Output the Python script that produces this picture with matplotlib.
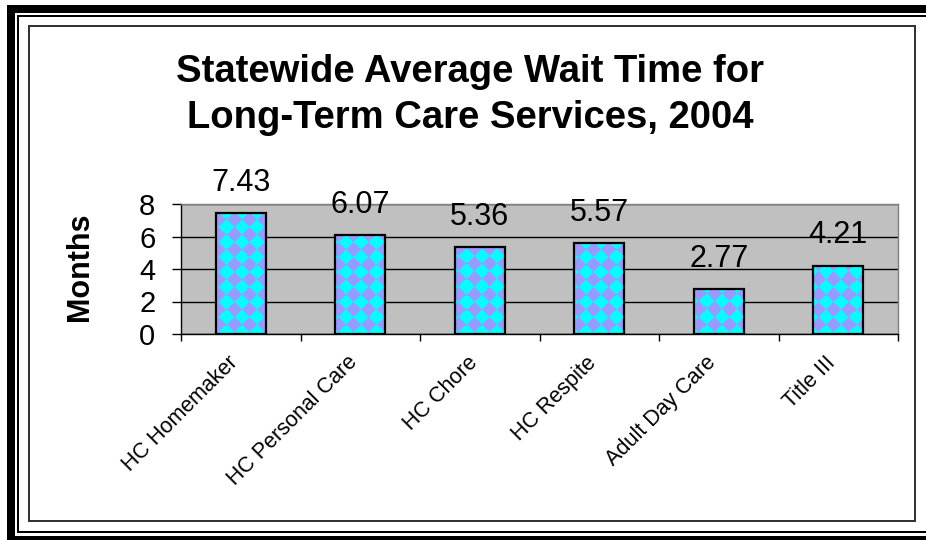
import numpy as np
import matplotlib
matplotlib.use("Agg")
import matplotlib.pyplot as plt
from matplotlib.patches import Rectangle
from matplotlib.ticker import FixedLocator
import matplotlib.transforms as mtransforms

categories = ["HC Homemaker", "HC Personal Care", "HC Chore", "HC Respite",
              "Adult Day Care", "Title III"]
values = [7.43, 6.07, 5.36, 5.57, 2.77, 4.21]
value_labels = ["7.43", "6.07", "5.36", "5.57", "2.77", "4.21"]
y_ticks = [0, 2, 4, 6, 8]
title_lines = ["Statewide Average Wait Time for", "Long-Term Care Services, 2004"]
ylabel = "Months"

W, H = 926, 540
DPI = 100
plt.rcParams['font.family'] = ['Liberation Sans', 'DejaVu Sans']

fig = plt.figure(figsize=(W / DPI, H / DPI), dpi=DPI)
fig.patch.set_facecolor("white")
fig.patch.set_edgecolor("white")
fig.patch.set_linewidth(0)

def fx(px):
    return px / W

def fy(py):
    return 1 - py / H

def band(x0, y0, x1, y1, color, z=1):
    fig.add_artist(Rectangle((fx(x0), fy(y1)), fx(x1) - fx(x0), fy(y0) - fy(y1),
                             transform=fig.transFigure, facecolor=color,
                             edgecolor="none", linewidth=0, zorder=z))

# decorative frame: thick outer band (left, top, bottom)
band(7, 5, 15, H, "black")
# thin line
band(17, 15, 19, 533, "black")
# inner box
band(28, 25, 916, 27, "#333333")
band(28, 25, 30, 522, "#333333")
band(914, 25, 916, 522, "#333333")
band(28, 520, 916, 522, "#333333")
# clear right margin, then horizontal bands on top
band(916.5, 0, W, H, "white", z=5)
band(7, 5, W, 13, "black", z=6)
band(7, 536, W, H, "black", z=6)
band(17, 15, W, 17, "black", z=6)
band(17, 531, W, 533, "black", z=6)

# axes
ax_l, ax_r, ax_t, ax_b = 181, 898, 204, 334
ax = fig.add_axes([fx(ax_l), fy(ax_b), fx(ax_r) - fx(ax_l), fy(ax_t) - fy(ax_b)])
ax.set_facecolor("#C0C0C0")
x = np.arange(len(categories))
ax.set_xlim(-0.5, len(categories) - 0.5)
ax.set_ylim(0, 8)

ax.yaxis.grid(True, color="black", linewidth=1.0)
ax.set_axisbelow(True)

bar_w = 0.42
bars = ax.bar(x, values, width=bar_w, color="#00FFFF", edgecolor="none", zorder=2)

# diamond checker pattern
pw, ph = ax_r - ax_l, ax_b - ax_t
jj, ii = np.meshgrid(np.arange(pw), np.arange(ph))
d = 15.0
par = (np.floor((jj + ii) / d) + np.floor((jj - ii) / d)) % 2
pat = np.zeros((ph, pw, 3))
cyan = np.array([0, 1, 1])
lav = np.array([0x99, 0x99, 0xFF]) / 255.0
pat[par == 0] = lav
pat[par == 1] = cyan
for b in bars:
    im = ax.imshow(pat, extent=(-0.5, len(categories) - 0.5, 0, 8), aspect='auto',
                   interpolation='nearest', origin='upper', zorder=2.5)
    im.set_clip_path(b)
ax.bar(x, values, width=bar_w, fill=False, edgecolor="black", linewidth=1.6, zorder=3)

for xi, v, s in zip(x, values, value_labels):
    ax.annotate(s, (xi, v), xytext=(0, 11), textcoords="offset points",
                ha="center", va="bottom", fontsize=22, zorder=4)

for s in ["top", "right"]:
    ax.spines[s].set_color("#808080")
    ax.spines[s].set_linewidth(1.0)
for s in ["left", "bottom"]:
    ax.spines[s].set_color("black")
    ax.spines[s].set_linewidth(1.0)

ax.set_yticks(y_ticks)
ax.set_yticklabels([str(t) for t in y_ticks], fontsize=21)
ax.tick_params(axis="y", length=6.5, width=1, pad=12)

ax.set_xticks(x)
ax.xaxis.set_minor_locator(FixedLocator(np.arange(len(categories) + 1) - 0.5))
ax.tick_params(axis="x", which="major", length=0, pad=13)
ax.tick_params(axis="x", which="minor", length=5, width=1)
ax.set_xticklabels(categories, fontsize=15.5, rotation=45, ha="right", va="top",
                   rotation_mode="anchor")
shift = mtransforms.ScaledTranslation(-13 / DPI, 0, fig.dpi_scale_trans)
for lbl in ax.get_xticklabels():
    lbl.set_transform(lbl.get_transform() + shift)

fig.text(fx(80), fy(267), ylabel, rotation=90, ha="center", va="center",
         fontsize=22, fontweight="bold")
for line, base in zip(title_lines, [82, 128]):
    fig.text(fx(470), fy(base), line, ha="center", va="baseline", fontsize=27.5,
             fontweight="bold")

fig.savefig("out.png", dpi=DPI, facecolor="white")
